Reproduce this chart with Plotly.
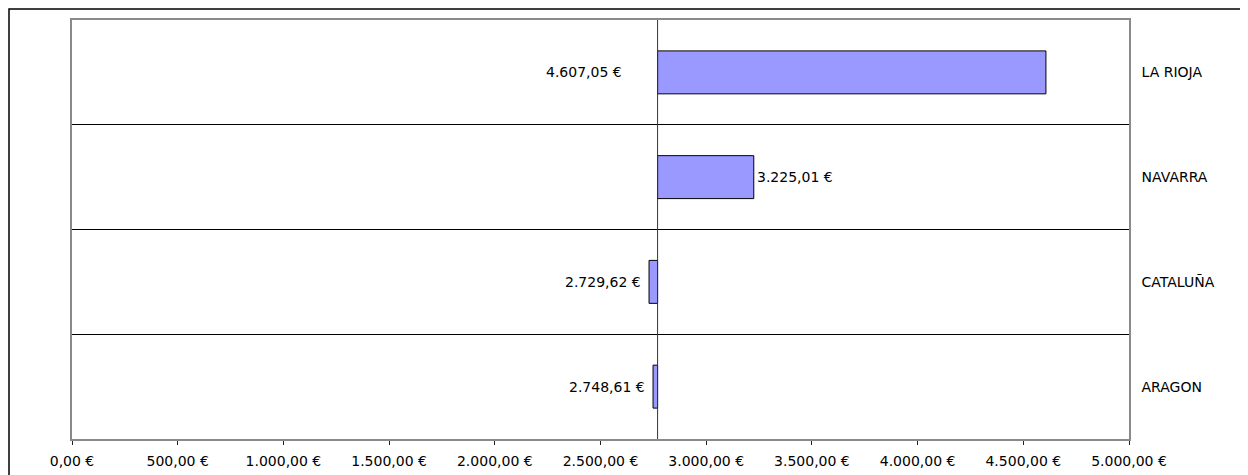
import plotly.graph_objects as go

regions = ['LA RIOJA', 'NAVARRA', 'CATALUÑA', 'ARAGON']
importes = [4607.05, 3225.01, 2729.62, 2748.61]
base = 2770.0
tick_vals = [0, 500, 1000, 1500, 2000, 2500, 3000, 3500, 4000, 4500, 5000]


def euro(v):
    s = '{:,.2f}'.format(v).replace(',', 'X').replace('.', ',').replace('X', '.')
    return s + ' €'


font = dict(family='DejaVu Sans, Liberation Sans, Arial', size=14, color='black')

fig = go.Figure(go.Bar(
    y=regions,
    x=[v - base for v in importes],
    base=base,
    orientation='h',
    width=0.41,
    marker=dict(color='#9999FF', line=dict(color='black', width=1)),
    hoverinfo='skip',
))

# etiquetas de datos
for reg, v in zip(regions, importes):
    if reg == 'LA RIOJA':
        ann = dict(x=base, xanchor='right', xshift=-34)
    elif v > base:
        ann = dict(x=v, xanchor='left', xshift=1)
    else:
        ann = dict(x=v, xanchor='right', xshift=-6)
    fig.add_annotation(y=reg, text=euro(v), showarrow=False, yanchor='middle',
                       font=font, xref='x', yref='y', **ann)

# linea vertical en la base
fig.add_shape(type='line', xref='x', yref='paper', x0=base, x1=base, y0=0, y1=1,
              line=dict(color='#333333', width=1))

# marco exterior del grafico
fig.add_shape(type='rect', xref='paper', yref='paper',
              x0=-0.0596, x1=1.2, y0=-0.2, y1=1.026,
              line=dict(color='black', width=1.5), layer='below')

fig.update_xaxes(range=[0, 5000], tickvals=tick_vals, ticktext=[euro(v) for v in tick_vals],
                 ticks='outside', ticklen=4, tickcolor='#222222',
                 ticklabelstandoff=4, automargin=False,
                 showgrid=False, zeroline=False,
                 showline=True, mirror=True, linecolor='#8a8a8a', linewidth=1.5,
                 tickfont=font, fixedrange=True)
fig.update_yaxes(autorange='reversed', side='right', tickson='boundaries', ticks='',
                 showgrid=True, gridcolor='black', gridwidth=1, automargin=False,
                 showline=True, mirror=True, linecolor='#8a8a8a', linewidth=1.5,
                 ticklabelstandoff=8, tickfont=font, fixedrange=True)

fig.update_layout(
    width=1240, height=467,
    margin=dict(l=64, r=119, t=12, b=36),
    plot_bgcolor='white', paper_bgcolor='white',
    showlegend=False,
    bargap=0.59,
)

fig.write_html('out.html')
